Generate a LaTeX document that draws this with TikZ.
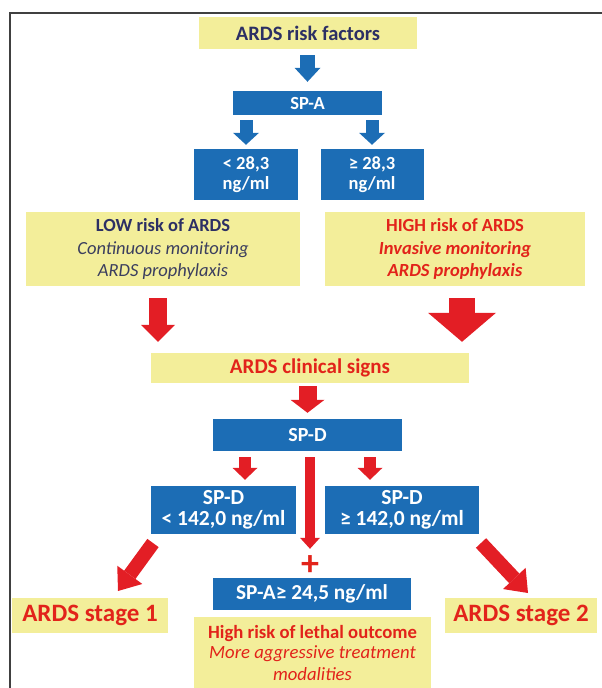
\documentclass[tikz,border=0pt]{standalone}
\usepackage{fontspec}
\setmainfont{Carlito}
\usetikzlibrary{arrows.meta,positioning}
\definecolor{boxyellow}{HTML}{F3EE9A}
\definecolor{boxblue}{HTML}{1C6DB5}
\definecolor{navy}{HTML}{2C2F64}
\definecolor{slate}{HTML}{3B3E5E}
\definecolor{textred}{HTML}{E2231A}
\definecolor{arrowred}{HTML}{E31E25}
\newcommand{\fsz}[2]{\fontsize{#1}{#2}\selectfont}

\begin{document}
\begin{tikzpicture}[x=1pt,y=-1pt,
  ybox/.style={fill=boxyellow,inner sep=0pt,align=center},
  bbox/.style={fill=boxblue,text=white,inner sep=0pt,align=center,font=\bfseries\fsz{18.5}{20}},
  fat/.style n args={3}{line width=#1,-{Triangle[width=#2,length=#3,line width=0pt]}}]
\useasboundingbox (0,0) rectangle (602,688);
\draw[line width=1.2pt,black!75] (10,688) -- (10,13) -- (602,13);
\node[ybox,minimum width=218pt,minimum height=32pt,text=navy,font=\bfseries\fsz{20.5}{22}] (risk) at (308,33) {ARDS risk factors};
\node[bbox,minimum width=149pt,minimum height=24pt] (spa) at (307.5,103) {SP-A};
\node[bbox,minimum width=104pt,minimum height=51pt] (alo) at (246,174.5) {< 28,3\\ng/ml};
\node[bbox,minimum width=103pt,minimum height=51pt] (ahi) at (372,174.5) {≥ 28,3\\ng/ml};
\node[ybox,minimum width=274pt,minimum height=74pt,text=slate,font=\fsz{18.5}{22.5}] (low) at (163,249)
  {{\bfseries\color{navy}LOW risk of ARDS}\\{\itshape Continuous monitoring}\\{\itshape ARDS prophylaxis}};
\node[ybox,minimum width=260pt,minimum height=74pt,text=textred,font=\bfseries\fsz{18.5}{22.5}] (high) at (455,249)
  {HIGH risk of ARDS\\{\itshape Invasive monitoring}\\{\itshape ARDS prophylaxis}};
\node[ybox,minimum width=318pt,minimum height=30pt,text=textred,font=\bfseries\fsz{21}{22}] (clin) at (310,368) {ARDS clinical signs};
\node[bbox,minimum width=189pt,minimum height=32pt,font=\bfseries\fsz{20}{21}] (spd) at (307.5,435) {SP-D};
\node[bbox,minimum width=145pt,minimum height=48pt,font=\bfseries\fsz{21.5}{21}] (sdlo) at (223.5,510) {SP-D\\< 142,0 ng/ml};
\node[bbox,minimum width=154pt,minimum height=48pt,font=\bfseries\fsz{21.5}{21}] (sdhi) at (402,510) {SP-D\\≥ 142,0 ng/ml};
\node[text=textred,font=\bfseries\fsz{36}{36},inner sep=0pt,text height=18pt,text depth=0pt] (plus) at (310,566) {+};
\node[bbox,minimum width=198pt,minimum height=32pt,font=\bfseries\fsz{21.3}{22}] (spa2) at (312,594) {SP-A≥ 24,5 ng/ml};
\node[ybox,minimum width=156pt,minimum height=35pt,text=textred,font=\bfseries\fsz{25}{26}] (st1) at (90,615.5) {ARDS stage 1};
\node[ybox,minimum width=152pt,minimum height=35pt,text=textred,font=\bfseries\fsz{25}{26}] (st2) at (521,615.5) {ARDS stage 2};
\node[ybox,minimum width=237pt,minimum height=71pt,text=textred,font=\fsz{18.7}{21}] (lethal) at (312.5,652.5)
  {{\bfseries High risk of lethal outcome}\\{\itshape More aggressive treatment}\\{\itshape modalities}};
\coordinate (lowout) at ([xshift=-5pt]low.south);
\coordinate (highout) at ([xshift=7pt]high.south);
\coordinate (spdl) at ([xshift=-62.5pt]spd.south);
\coordinate (spdr) at ([xshift=62.5pt]spd.south);
\coordinate (spdm) at ([xshift=2.5pt]spd.south);
\coordinate (d1a) at (153,543);
\coordinate (d1b) at (118,591);
\coordinate (d2a) at (481,543);
\coordinate (d2b) at (528,593);
\draw[boxblue,fat={15pt}{26pt}{14pt},shorten <=6pt,shorten >=9pt] (spa.north |- risk.south) -- (spa.north);
\draw[boxblue,fat={13pt}{26pt}{12pt},shorten <=5pt,shorten >=4pt] (alo.north |- spa.south) -- (alo.north);
\draw[boxblue,fat={13pt}{26pt}{12pt},shorten <=5pt,shorten >=4pt] (ahi.north |- spa.south) -- (ahi.north);
\draw[arrowred,fat={18pt}{34pt}{17pt},shorten <=12pt,shorten >=11pt] (lowout) -- (lowout |- clin.north);
\draw[arrowred,fat={26pt}{68pt}{29pt},shorten <=12pt,shorten >=11pt] (highout) -- (highout |- clin.north);
\draw[arrowred,fat={18pt}{34pt}{13pt},shorten <=3pt,shorten >=6pt] (spd.north |- clin.south) -- (spd.north);
\draw[arrowred,fat={12pt}{25pt}{12pt},shorten <=6pt,shorten >=6pt] (spdl) -- (spdl |- sdlo.north);
\draw[arrowred,fat={12pt}{25pt}{12pt},shorten <=6pt,shorten >=6pt] (spdr) -- (spdr |- sdhi.north);
\draw[arrowred,fat={10pt}{20pt}{11pt},shorten <=6pt,shorten >=8pt] (spdm) -- (spdm |- plus.north);
\draw[arrowred,fat={14pt}{31pt}{20pt}] (d1a) -- (d1b);
\draw[arrowred,fat={14pt}{31pt}{20pt}] (d2a) -- (d2b);
\end{tikzpicture}
\end{document}
